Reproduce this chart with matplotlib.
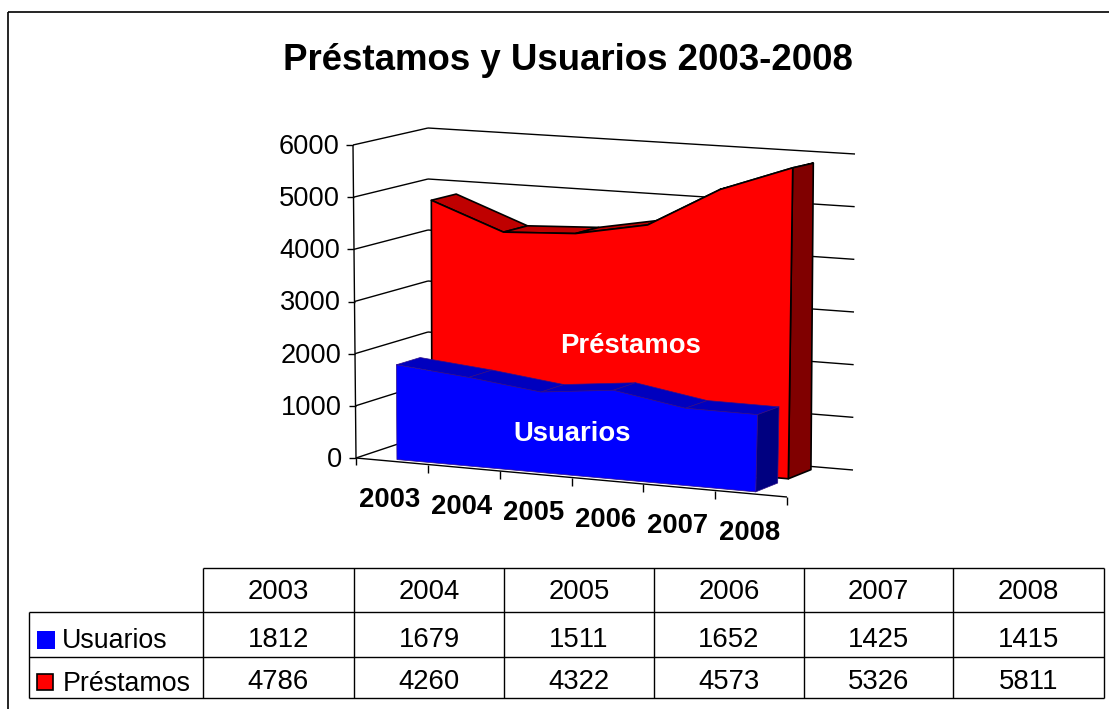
#!/usr/bin/env python3
import matplotlib
matplotlib.use('Agg')
import matplotlib.pyplot as plt
from matplotlib.patches import Polygon, Rectangle
import numpy as np

years = ['2003', '2004', '2005', '2006', '2007', '2008']
usuarios = [1812, 1679, 1511, 1652, 1425, 1415]
prestamos = [4786, 4260, 4322, 4573, 5326, 5811]
y_ticks = [0, 1000, 2000, 3000, 4000, 5000, 6000]
y_max = 6000.0

plt.rcParams['font.family'] = ['Liberation Sans', 'DejaVu Sans']

# pixel position of the corners of the 3d box: (cat, value, depth)
corners = {
  (0, 0, 0): (356, 458), (1, 0, 0): (787, 497),
  (0, 1, 0): (353, 145), (1, 1, 0): (796, 167),
  (0, 0, 1): (428, 434), (1, 0, 1): (853, 470),
  (0, 1, 1): (428, 128), (1, 1, 1): (855, 154),
}

def project(x, y, z):
  px = np.zeros(2)
  for (i, j, k), c in corners.items():
    w = (x if i else 1 - x) * (y if j else 1 - y) * (z if k else 1 - z)
    px += w * np.array(c)
  return tuple(px)

def area3d(ax, values, z0, z1, front, top, side, edge, lw, zorder):
  n = len(values)
  xs = [(i + 0.5) / n for i in range(n)]
  ys = [v / y_max for v in values]
  # top faces first, the front hides what should not show
  for i in range(n - 1):
    quad = [project(xs[i], ys[i], z0), project(xs[i + 1], ys[i + 1], z0),
            project(xs[i + 1], ys[i + 1], z1), project(xs[i], ys[i], z1)]
    ax.add_patch(Polygon(quad, fc=top, ec=edge, lw=lw, joinstyle='round', zorder=zorder))
  sd = [project(xs[-1], 0, z0), project(xs[-1], ys[-1], z0),
        project(xs[-1], ys[-1], z1), project(xs[-1], 0, z1)]
  ax.add_patch(Polygon(sd, fc=side, ec=edge, lw=lw, joinstyle='round', zorder=zorder))
  pts = [project(xs[0], 0, z0)]
  pts += [project(x, y, z0) for x, y in zip(xs, ys)]
  pts += [project(xs[-1], 0, z0)]
  ax.add_patch(Polygon(pts, fc=front, ec=edge, lw=lw, joinstyle='round', zorder=zorder))

def seg(ax, a, b, lw=1.0, color='black'):
  ax.plot([a[0], b[0]], [a[1], b[1]], color=color, lw=lw, solid_capstyle='butt', zorder=2)

fig = plt.figure(figsize=(11.09, 7.09), dpi=100)
ax = fig.add_axes([0, 0, 1, 1])
ax.set_xlim(0, 1109)
ax.set_ylim(709, 0)
ax.axis('off')

# outer frame, the right and bottom sides are cut off by the image edge
seg(ax, (8, 709), (8, 12), lw=1.2)
seg(ax, (8, 12), (1109, 12), lw=1.2)

ax.text(568, 61, 'Préstamos y Usuarios 2003-2008', fontsize=26.4, fontweight='bold',
        ha='center', va='center')

# walls and grid
for t in y_ticks:
  v = t / y_max
  seg(ax, project(0, v, 0), project(0, v, 1))
  seg(ax, project(0, v, 1), project(1, v, 1))
  p = project(0, v, 0)
  seg(ax, (p[0] - 7, p[1]), p)
  ax.text(p[0] - 14, p[1] + 2, str(t), fontsize=19.6, ha='right', va='center')
seg(ax, project(0, 1, 0), project(0, 0, 0))
p = project(0, 0, 0)
seg(ax, p, (p[0], p[1] + 7))
seg(ax, project(0, 0, 0), project(1, 0, 0))

n = len(years)
for i in range(1, n + 1):
  p = project(i / n, 0, 0)
  seg(ax, p, (p[0], p[1] + 8))
for i, yr in enumerate(years):
  p = project((i + 0.5) / n, 0, 0)
  ax.text(p[0] - 2, p[1] + 39, yr, fontsize=19.8, fontweight='bold', ha='center', va='center', zorder=6)

area3d(ax, prestamos, 0.56, 0.90, '#ff0000', '#bf0000', '#800000', 'black', 1.2, 3)
area3d(ax, usuarios, 0.07, 0.40, '#0000ff', '#0000bf', '#000080', '#30108a', 0.5, 4)

ax.text(631, 346, 'Préstamos', color='white', fontsize=19.8, fontweight='bold', ha='center', va='center', zorder=6)
ax.text(572, 434, 'Usuarios', color='white', fontsize=19.8, fontweight='bold', ha='center', va='center', zorder=6)

# data table
col_x = [203, 354, 504, 654, 804, 953, 1104]
row_y = [568, 612, 657, 698]
left_x = 29
seg(ax, (col_x[0], row_y[0]), (col_x[-1], row_y[0]))
for y in row_y[1:]:
  seg(ax, (left_x, y), (col_x[-1], y))
seg(ax, (left_x, row_y[1]), (left_x, row_y[-1]))
for x in col_x:
  seg(ax, (x, row_y[0]), (x, row_y[-1]))

rows = [usuarios, prestamos]
for i, yr in enumerate(years):
  cx = (col_x[i] + col_x[i + 1]) / 2
  ax.text(cx, 592, yr, fontsize=19.8, ha='center', va='center')
  ax.text(cx, 640, str(rows[0][i]), fontsize=19.8, ha='center', va='center')
  ax.text(cx, 682, str(rows[1][i]), fontsize=19.8, ha='center', va='center')

ax.add_patch(Rectangle((37, 631), 18, 18, fc='#0000ff', ec='none'))
ax.add_patch(Rectangle((37, 674), 16, 16, fc='#ff0000', ec='black', lw=1.2))
ax.text(62, 641, 'Usuarios', fontsize=19.3, ha='left', va='center')
ax.text(63, 684, 'Préstamos', fontsize=19.3, ha='left', va='center')

fig.savefig('out.png', dpi=100)
